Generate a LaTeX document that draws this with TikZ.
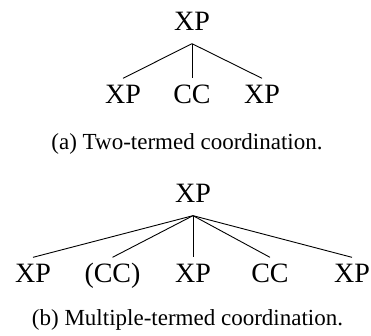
\documentclass[tikz,border=0pt]{standalone}
\usepackage{fontspec}
\setmainfont{Liberation Serif}
\begin{document}
\begin{tikzpicture}[x=0.5pt,y=-0.5pt,
  treefont/.style={font=\fontsize{14pt}{16pt}\selectfont},
  parentnode/.style={treefont, inner xsep=0pt, inner ysep=6.5pt, text height=9.27pt, text depth=0pt},
  childnode/.style={treefont, inner xsep=0pt, inner ysep=3pt, text height=9.27pt, text depth=0pt},
  capnode/.style={font=\fontsize{11.5pt}{13pt}\selectfont, inner sep=0pt},
  branch/.style={line width=0.45pt}]
\useasboundingbox (0,0) rectangle (371,336);
% tree (a)
\node[parentnode] (a0) at (192,21) {XP};
\node[childnode] (a1) at (123,94) {XP};
\node[childnode] (a2) at (192,94) {CC};
\node[childnode] (a3) at (262,94) {XP};
\draw[branch] (a0.south) -- (a1.north);
\draw[branch] (a0.south) -- (a2.north);
\draw[branch] (a0.south) -- (a3.north);
\node[capnode] (capa) at (187,144) {(a) Two-termed coordination.};
% tree (b)
\node[parentnode] (b0) at (193,193) {XP};
\node[childnode] (b1) at (33,273) {XP};
\node[childnode] (b2) at (112.5,273) {(CC)};
\node[childnode] (b3) at (193,273) {XP};
\node[childnode] (b4) at (270,273) {CC};
\node[childnode] (b5) at (352,273) {XP};
\foreach \c in {b1,b2,b3,b4,b5} \draw[branch] (b0.south) -- (\c.north);
\node[capnode] (capb) at (187.5,320) {(b) Multiple-termed coordination.};
\end{tikzpicture}
\end{document}
